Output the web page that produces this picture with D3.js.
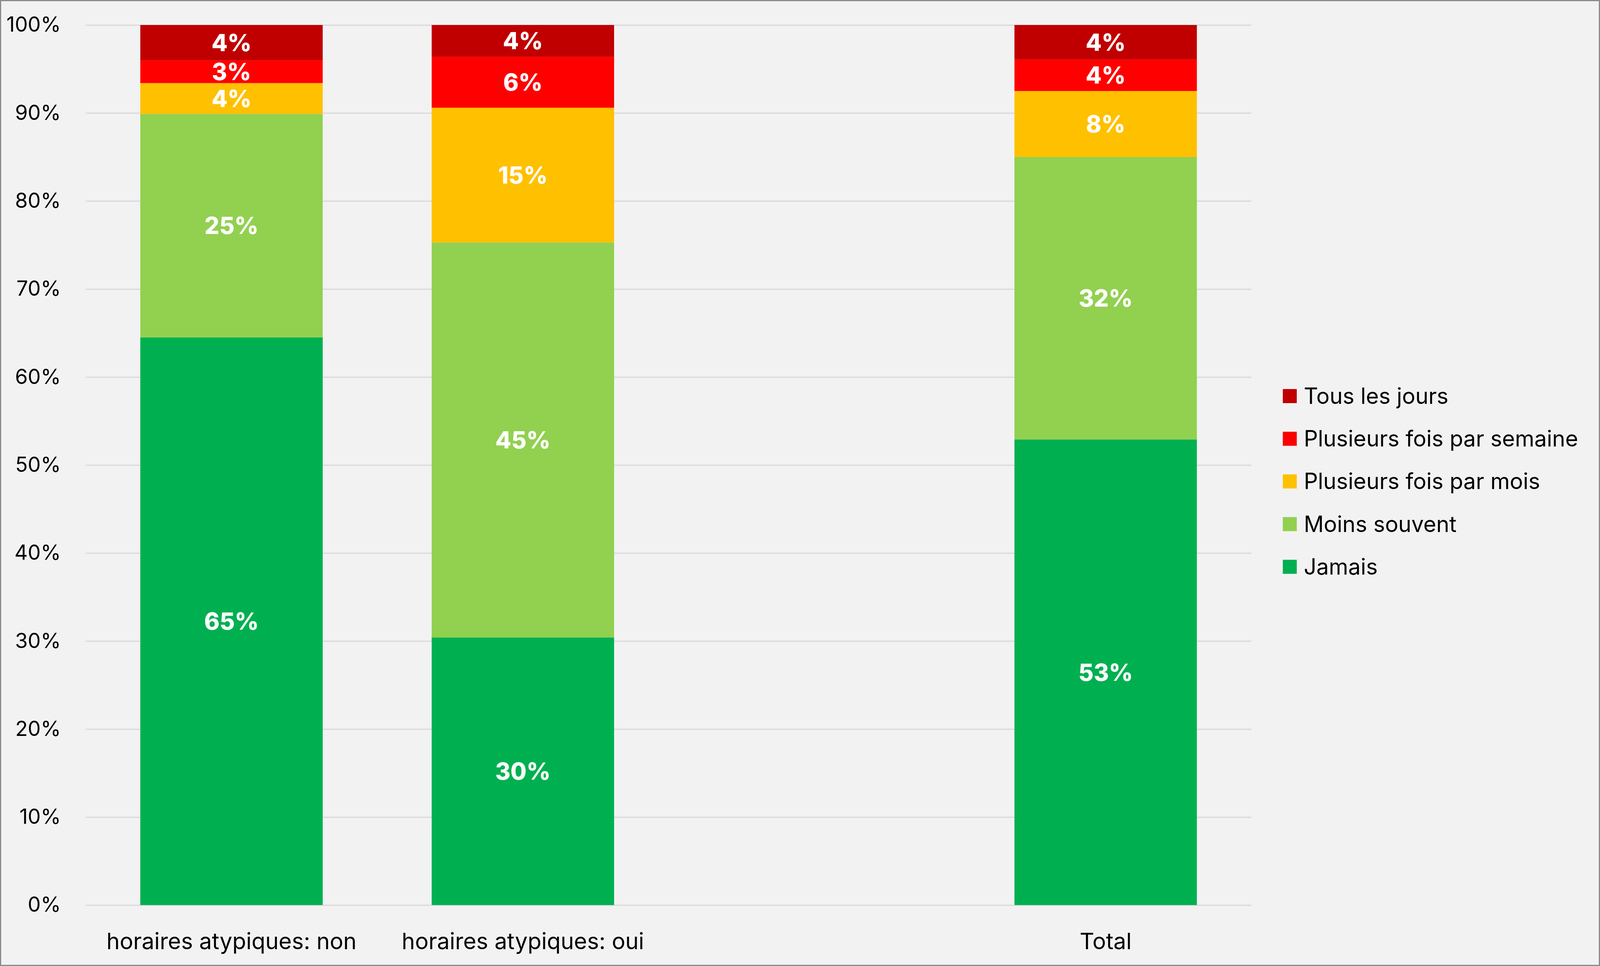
<!DOCTYPE html>
<html>
<head>
<meta charset="utf-8">
<script src="https://cdn.jsdelivr.net/npm/d3@7"></script>
<style>
  html, body { margin: 0; padding: 0; background: #f2f2f2; overflow: hidden; }
  svg { display: block; width: 100vw; height: 100vh; }
  text { font-family: Inter, "Open Sans", sans-serif; }
</style>
</head>
<body>
<script>
// categories (the third slot is an empty gap in the original chart)
const categories = ["horaires atypiques: non", "horaires atypiques: oui", "", "Total"];

// series values, in percent
const jamais = [64.5, 30.4, null, 52.9];
const moinsSouvent = [25.4, 44.9, null, 32.1];
const parMois = [3.5, 15.3, null, 7.5];
const parSemaine = [2.6, 5.8, null, 3.6];
const tousLesJours = [4.0, 3.6, null, 3.9];

const seriesNames = ["Jamais", "Moins souvent", "Plusieurs fois par mois", "Plusieurs fois par semaine", "Tous les jours"];
const seriesColors = ["#00B050", "#92D050", "#FFC000", "#FF0000", "#C00000"];
const yTicks = [0, 10, 20, 30, 40, 50, 60, 70, 80, 90, 100];

const w = 4121;
const h = 2473;

// plot area
let margin = { top: 64, right: 898, bottom: 156, left: 221 };
const innerWidth = w - margin.left - margin.right;
const innerHeight = h - margin.top - margin.bottom;

// build rows for d3.stack
const allSeries = [jamais, moinsSouvent, parMois, parSemaine, tousLesJours];
const rows = categories.map((c, i) => {
  let row = { category: c };
  seriesNames.forEach((s, j) => { row[s] = allSeries[j][i]; });
  return row;
});

const stack = d3.stack()
  .keys(seriesNames)
  .value((d, key) => d[key] == null ? 0 : d[key]);
const stacked = stack(rows);

// viewBox so the drawing fits the window whatever its inner size
const svg = d3.select("body")
  .append("svg")
  .attr("viewBox", `0 0 ${w} ${h}`)
  .attr("preserveAspectRatio", "none");

// background + outer border
svg.append("rect")
  .attr("x", 1.5)
  .attr("y", 1.5)
  .attr("width", w - 3)
  .attr("height", h - 3)
  .attr("fill", "#f2f2f2")
  .attr("stroke", "#8c8c8c")
  .attr("stroke-width", 3);

const xScale = d3.scaleBand()
  .domain(categories)
  .range([0, innerWidth])
  .paddingInner(0.374)
  .paddingOuter(0.187);

const yScale = d3.scaleLinear()
  .domain([0, 100])
  .range([innerHeight, 0]);

const g = svg.append("g")
  .attr("transform", `translate(${margin.left},${margin.top})`);

// y axis with gridlines
const yAxis = d3.axisLeft(yScale)
  .tickValues(yTicks)
  .tickSize(-innerWidth)
  .tickPadding(64)
  .tickFormat(d => d + "%");

const yAxisG = g.append("g").call(yAxis);
yAxisG.select(".domain").remove();
yAxisG.selectAll("line")
  .attr("stroke", "#d9d9d9")
  .attr("stroke-width", 3);
yAxisG.selectAll("text")
  .attr("fill", "#000")
  .style("font-size", "53px");

// x axis labels
const xAxis = d3.axisBottom(xScale).tickSize(0).tickPadding(72);
const xAxisG = g.append("g")
  .attr("transform", `translate(0, ${innerHeight})`)
  .call(xAxis);
xAxisG.select(".domain").remove();
xAxisG.selectAll("text")
  .attr("fill", "#000")
  .style("font-size", "58px");

// stacked bars
const layers = g.selectAll(".layer")
  .data(stacked)
  .enter()
  .append("g")
  .attr("class", "layer")
  .attr("fill", (d, i) => seriesColors[i]);

layers.selectAll("rect")
  .data(d => d.filter(p => p.data[d.key] != null))
  .enter()
  .append("rect")
  .attr("x", d => xScale(d.data.category))
  .attr("y", d => yScale(d[1]))
  .attr("width", xScale.bandwidth())
  .attr("height", d => yScale(d[0]) - yScale(d[1]));

// value labels
layers.selectAll("text")
  .data(d => d.filter(p => p.data[d.key] != null).map(p => ({ p: p, v: p.data[d.key] })))
  .enter()
  .append("text")
  .attr("x", d => xScale(d.p.data.category) + xScale.bandwidth() / 2)
  .attr("y", d => yScale((d.p[0] + d.p[1]) / 2))
  .attr("dy", "0.36em")
  .attr("text-anchor", "middle")
  .attr("fill", "#fff")
  .style("font-size", "60px")
  .style("font-weight", "800")
  .text(d => Math.round(d.v) + "%");

// legend (top to bottom: reverse stack order)
const legendNames = seriesNames.slice().reverse();
const legendColors = seriesColors.slice().reverse();
const legendY = d3.scalePoint()
  .domain(legendNames)
  .range([1014, 1451]);

const legend = svg.append("g");
legend.selectAll("rect")
  .data(legendNames)
  .enter()
  .append("rect")
  .attr("x", 3304)
  .attr("y", d => legendY(d) - 18)
  .attr("width", 36)
  .attr("height", 36)
  .attr("fill", (d, i) => legendColors[i]);

legend.selectAll("text")
  .data(legendNames)
  .enter()
  .append("text")
  .attr("x", 3358)
  .attr("y", d => legendY(d))
  .attr("dy", "0.35em")
  .attr("fill", "#000")
  .style("font-size", "57px")
  .text(d => d);
</script>
</body>
</html>
